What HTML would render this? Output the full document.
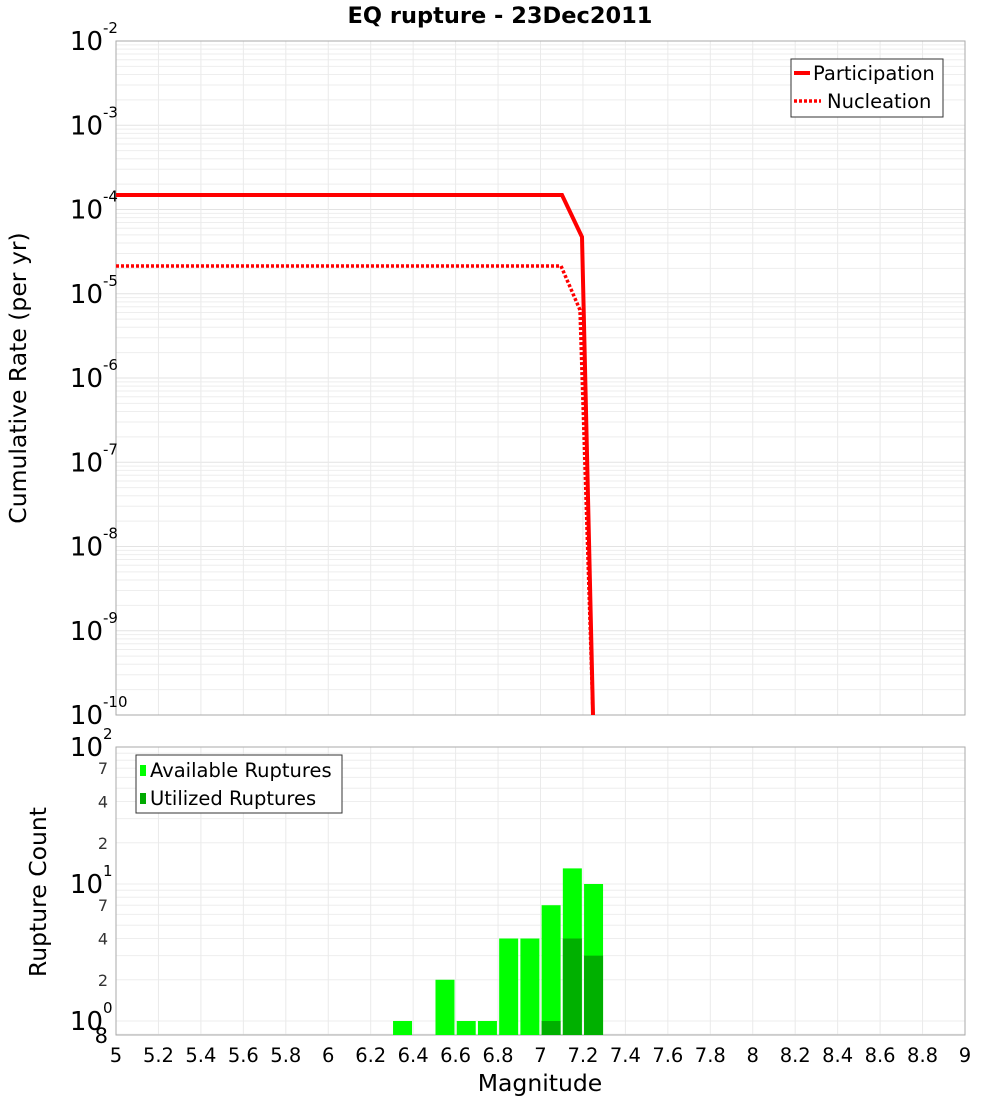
<!DOCTYPE html>
<html><head><meta charset="utf-8"><style>
body{margin:0;background:#fff;}
svg{display:block;font-family:"DejaVu Sans","Liberation Sans",sans-serif;}
</style></head><body>
<svg id="s" width="1000" height="1100" xmlns="http://www.w3.org/2000/svg">
<rect width="1000" height="1100" fill="#fff"/>
<text x="500" y="23" text-anchor="middle" font-size="22.5" font-weight="bold">EQ rupture - 23Dec2011</text>
<g id="grid"></g>
<rect x="116" y="41" width="849" height="674" fill="none" stroke="#aaa" stroke-width="1"/>
<rect x="116" y="747" width="849" height="288" fill="none" stroke="#aaa" stroke-width="1"/>
<g id="bars"></g>
<polyline points="116,195 562,195 582,237 593,715" fill="none" stroke="#f00" stroke-width="4"/>
<polyline points="116,266 561,266 580,310 593,715" fill="none" stroke="#f00" stroke-width="3.5" stroke-dasharray="3,2"/>
<rect x="791" y="59" width="152" height="58" fill="#fff" stroke="#333" stroke-width="1"/>
<line x1="794" y1="73" x2="810" y2="73" stroke="#f00" stroke-width="4"/>
<text x="813" y="80" font-size="19.5">Participation</text>
<line x1="794" y1="101" x2="821" y2="101" stroke="#f00" stroke-width="3.5" stroke-dasharray="3,2"/>
<text x="827" y="108" font-size="19.5">Nucleation</text>
<rect x="136" y="755" width="206" height="58" fill="#fff" stroke="#333" stroke-width="1"/>
<rect x="140" y="765" width="6" height="11" fill="#0f0"/>
<text x="150" y="777" font-size="19.5">Available Ruptures</text>
<rect x="140" y="793" width="6" height="11" fill="#0a0"/>
<text x="150" y="805" font-size="19.5">Utilized Ruptures</text>
<text transform="translate(26,378) rotate(-90)" text-anchor="middle" font-size="23.5">Cumulative Rate (per yr)</text>
<text transform="translate(46,892) rotate(-90)" text-anchor="middle" font-size="23.5">Rupture Count</text>
<text x="540" y="1091" text-anchor="middle" font-size="23.5">Magnitude</text>
<g id="labels"></g>
</svg>
<script>
var NS="http://www.w3.org/2000/svg";
function el(p,t,a,txt){var e=document.createElementNS(NS,t);for(var k in a)e.setAttribute(k,a[k]);if(txt!==undefined)e.textContent=txt;document.getElementById(p).appendChild(e);return e;}
var X=function(m){return 116+(m-5)*212.25;};
var TD=84.25;
for(var d=0;d<8;d++){
  for(var k=1;k<=9;k++){
    var y=41+(d+1)*TD-Math.log10(k)*TD;
    el("grid","line",{x1:116,x2:965,y1:y,y2:y,stroke:k==1?"#e3e3e3":"#eeeeee","stroke-width":1});
  }
}
var BD=137;
function YB(v){return 747+(2-Math.log10(v))*BD;}
for(var d=0;d<=2;d++){for(var k=1;k<=9;k++){var v=k*Math.pow(10,d);var y=YB(v);if(y>=747&&y<=1035)el("grid","line",{x1:116,x2:965,y1:y,y2:y,stroke:"#eeeeee","stroke-width":1});}}
var y8=YB(0.8);el("grid","line",{x1:116,x2:965,y1:y8,y2:y8,stroke:"#eee"});
for(var i=1;i<20;i++){var x=X(5+i*0.2);
  el("grid","line",{x1:x,x2:x,y1:41,y2:715,stroke:"#eaeaea"});
  el("grid","line",{x1:x,x2:x,y1:747,y2:1035,stroke:"#eaeaea"});}
var bars=[[6.35,1,0],[6.55,2,0],[6.65,1,0],[6.75,1,0],[6.85,4,0],[6.95,4,0],[7.05,7,1],[7.15,13,4],[7.25,10,3]];
bars.forEach(function(b){var x0=X(b[0])-9.5;
  el("bars","rect",{x:x0,y:YB(b[1]),width:19,height:1035-YB(b[1]),fill:"#00ff00"});
  if(b[2])el("bars","rect",{x:x0,y:YB(b[2]),width:19,height:1035-YB(b[2]),fill:"#00b000"});
});
for(var e=-2;e>=-10;e--){var y=41+(-2-e)*TD;
  el("labels","text",{x:103,y:y+9,"text-anchor":"end","font-size":26},"10");
  el("labels","text",{x:103,y:y-8,"font-size":15},""+e);
}
[[2,"2"],[1,"1"],[0,"0"]].forEach(function(p){var y=YB(Math.pow(10,p[0]));
  el("labels","text",{x:103,y:y+9,"text-anchor":"end","font-size":26},"10");
  el("labels","text",{x:103,y:y-8,"font-size":15},p[1]);});
[[7,"7"],[4,"4"],[2,"2"],[70,"7"],[40,"4"],[20,"2"]].forEach(function(p){var y=YB(p[0]);
  el("labels","text",{x:108,y:y+6,"text-anchor":"end","font-size":16,fill:"#333"},p[1]);});
el("labels","text",{x:108,y:1043,"text-anchor":"end","font-size":21},"8");
for(var i=0;i<=20;i++){var m=5+i*0.2;var s=(Math.round(m*10)/10).toString();
  el("labels","text",{x:X(m),y:1062,"text-anchor":"middle","font-size":19.5},s);}
</script>
</body></html>
